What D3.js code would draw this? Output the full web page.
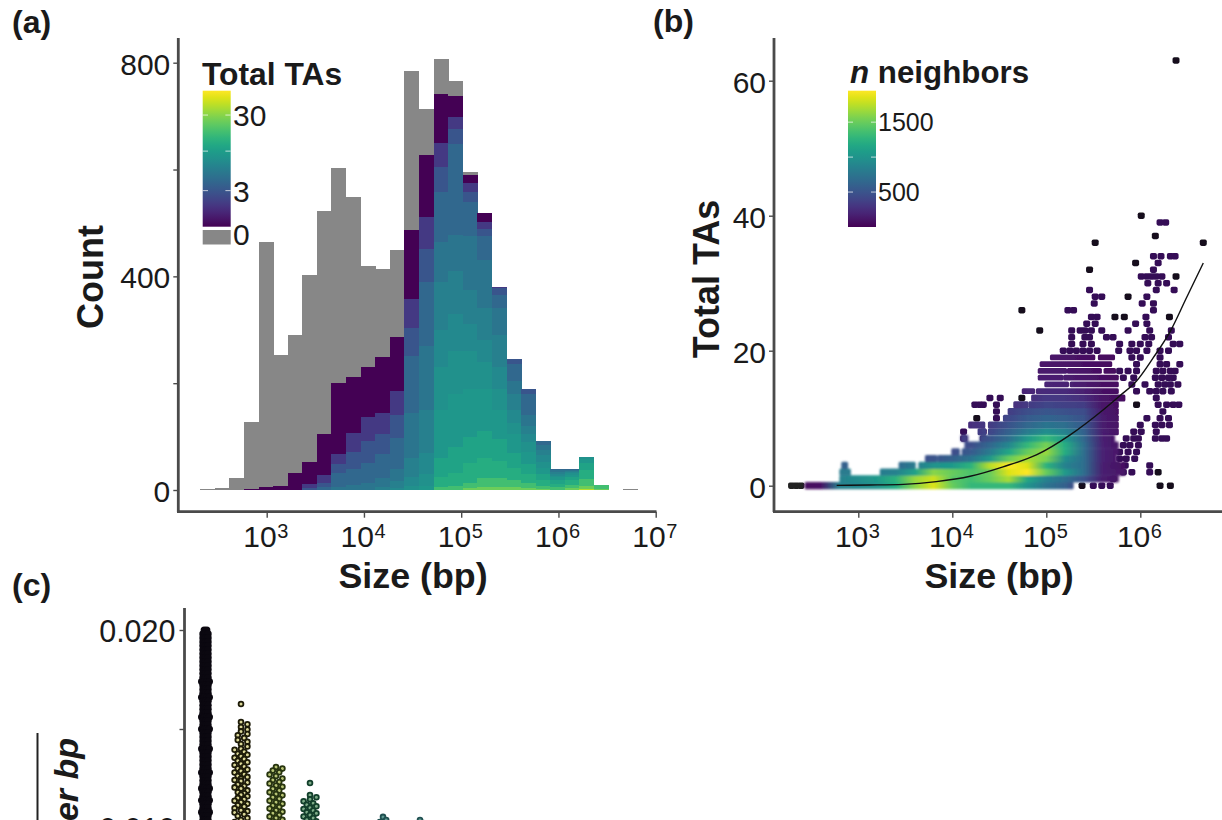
<!DOCTYPE html>
<html><head><meta charset="utf-8">
<script src="https://cdn.jsdelivr.net/npm/d3@7"></script>
<style>
html,body{margin:0;padding:0;background:#fff;overflow:hidden}
svg{display:block}
text{font-family:"Liberation Sans",Arial,sans-serif;fill:#1a1a1a}
</style></head><body>
<svg id="c" width="1222" height="820"></svg>
<script>
// ---------- Panel (a): histogram, counts of loci with at least k TAs, per size bin
const binCount = 30, binStartLog = 2.316, binWidthLog = 0.15;
const total = [1,4,22,128,464,252,290,403,522,603,549,419,413,450,785,714,806,766,596,519,380,246,189,91,40,39,61,9,0,1];
const ge1  = [0,0,0,1,5,8,32,53,104,200,212,230,249,286,487,628,742,737,590,519,380,246,189,91,40,39,61,9,0,0];
const ge2  = [0,0,0,0,0,0,0,12,28,68,106,137,144,186,358,511,650,698,574,501,380,246,189,91,40,39,61,9,0,0];
const ge3  = [0,0,0,0,0,0,0,4,14,48,72,92,104,140,304,452,604,676,558,488,378,246,189,91,40,39,61,9,0,0];
const ge4  = [0,0,0,0,0,0,0,0,6,31,40,50,67,97,250,390,558,648,540,475,365,235,180,91,40,39,61,9,0,0];
const ge5  = [0,0,0,0,0,0,0,0,0,6,10,14,22,40,145,270,465,478,475,430,340,205,140,85,38,38,61,9,0,0];
const ge6  = [0,0,0,0,0,0,0,0,0,0,0,0,5,16,60,150,390,410,375,340,290,180,120,74,34,36,61,9,0,0];
const ge7  = [0,0,0,0,0,0,0,0,0,0,0,0,0,3,25,70,300,330,310,280,230,150,105,65,30,34,61,9,0,0];
const ge8  = [0,0,0,0,0,0,0,0,0,0,0,0,0,0,8,30,230,260,260,240,190,125,90,52,27,32,61,9,0,0];
const ge9  = [0,0,0,0,0,0,0,0,0,0,0,0,0,0,0,8,150,180,190,190,150,105,72,42,24,28,58,9,0,0];
const ge11 = [0,0,0,0,0,0,0,0,0,0,0,0,0,0,0,0,60,80,100,110,95,70,48,30,18,24,50,9,0,0];
const ge13 = [0,0,0,0,0,0,0,0,0,0,0,0,0,0,0,0,25,32,50,60,55,42,30,18,12,18,38,9,0,0];
const ge18 = [0,0,0,0,0,0,0,0,0,0,0,0,0,0,0,0,5,8,14,22,22,18,14,8,5,10,20,9,0,0];
const ge25 = [0,0,0,0,0,0,0,0,0,0,0,0,0,0,0,0,0,0,3,6,6,5,4,2,0,3,7,2,0,0];
const ge40 = [0,0,0,0,0,0,0,0,0,0,0,0,0,0,0,0,0,0,0,0,0,0,0,0,0,0,1,0,0,0];
const levelTAs = [1,2,3,4,5,6,7,8,9,11,13,18,25,40];
const levelCounts = [ge1,ge2,ge3,ge4,ge5,ge6,ge7,ge8,ge9,ge11,ge13,ge18,ge25,ge40];
const countTicks = [0,200,400,600,800], countLabels = {0:"0",400:"400",800:"800"};
const sizeTicksA = [1e3,1e4,1e5,1e6,1e7];

// ---------- Panel (b): density scatter
const sizeTicksB = [1e3,1e4,1e5,1e6];
const taTicks = [0,20,40,60];
const neighborCols = [2.4,2.6,2.8,3.0,3.2,3.4,3.6,3.8,4.0,4.2,4.4,4.6,4.8,5.0,5.2,5.4,5.6,5.8,6.0];
const neighbors = [
 [60,80,850,900,1000,1200,1600,1850,1500,1300,1300,1300,1000,750,600,300,150,60,60],
 [60,80,850,950,1050,1250,1650,1800,1450,1350,1500,1700,1150,850,700,500,150,80,60],
 [800,800,800,800,800,850,1100,1600,1500,1400,1500,1850,1950,1500,1050,700,160,120,90],
 [600,600,600,600,600,650,800,1000,1050,1250,1750,1950,1850,1250,850,700,160,90,60],
 [450,450,450,450,450,450,450,500,600,750,1050,1500,1700,1550,950,700,180,100,60],
 [450,450,450,450,450,450,450,450,450,550,800,1150,1500,1650,1200,700,180,100,60],
 [450,450,450,450,450,450,450,450,450,450,650,900,1300,1550,1200,700,180,90,60],
 [350,350,350,350,350,350,350,350,350,350,500,700,1050,1300,1050,650,170,90,60],
 [300,300,300,300,300,300,300,300,300,300,400,600,800,950,850,600,160,80,60],
 [260,260,260,260,260,260,260,260,260,260,330,500,650,750,700,550,150,80,60],
 [220,220,220,220,220,220,220,220,220,220,300,420,550,620,580,500,150,80,60],
 [200,200,200,200,200,200,200,200,200,200,250,350,470,520,480,450,130,70,60],
 [180,180,180,180,180,180,180,180,180,180,200,250,330,400,380,350,110,70,60],
 [150,150,150,150,150,150,150,150,150,150,170,200,250,320,310,250,100,70,60],
 [120,120,120,120,120,120,120,120,120,120,130,150,200,240,230,170,90,70,60],
 [110,110,110,110,110,110,110,110,110,110,110,130,170,200,190,140,80,70,60],
 [100,100,100,100,100,100,100,100,100,100,100,110,140,160,150,120,80,60,60],
 [90,90,90,90,90,90,90,90,90,90,90,100,120,140,130,100,70,60,60],
 [80,80,80,80,80,80,80,80,80,80,80,90,110,120,110,90,70,60,60],
 [70,70,70,70,70,70,70,70,70,70,70,80,90,100,100,80,60,60,60]
];
// contiguous runs of points: [Total TAs, log10 size from, log10 size to]
const runs = [
 [0,2.45,5.27],[1,2.82,5.75],[2,2.82,2.90],[2,3.25,3.39],[2,3.41,5.82],[3,2.84,2.87],
 [3,3.45,3.59],[3,3.66,5.82],[4,3.73,3.82],[4,3.86,5.73],[5,4.01,4.06],[5,4.12,4.18],[5,4.22,5.75],
 [6,4.15,5.75],[7,4.11,4.15],[7,4.31,5.71],[8,4.29,4.34],[8,4.40,5.75],[9,4.19,4.33],[9,4.40,5.75],
 [10,4.56,5.75],[11,4.61,5.75],[12,4.67,4.79],[12,4.83,5.75],[13,4.86,5.82],[14,4.76,4.86],[14,4.91,5.75],
 [15,5.0,5.22],[15,5.27,5.75],[16,4.93,5.16],[16,5.2,5.75],[17,4.93,5.2],[17,5.24,5.57],[17,5.63,5.72],
 [18,4.95,5.68],[19,5.06,5.50],[19,5.57,5.71]
];
const sparse = [
 [63,[6.38]],[40,[6.01]],[39,[6.21,6.27]],[37,[6.16]],[36,[5.52,6.67]],[34,[6.14,6.22,6.32,6.37]],
 [33,[5.95,6.19]],[32,[5.46,6.14]],[31,[6.01,6.07,6.12,6.17,6.23,6.38]],[30,[6.08,6.19,6.28]],
 [29,[5.46,6.17,6.36]],[28,[5.52,5.59,5.87,6.07]],[27,[5.51,6.02,6.14]],[26,[4.74,5.23,5.29,6.14]],
 [25,[5.48,5.54,5.73,5.83,6.06,6.31]],[24,[5.43,5.52,5.95,6.07]],
 [23,[4.93,5.27,5.36,5.41,5.48,5.59,5.87,6.10,6.33]],[22,[5.27,5.41,5.46,5.64,5.71,6.05,6.12,6.30]],
 [21,[5.27,5.39,5.48,5.78,5.91,6.0,6.09,6.35,6.42]],
 [20,[5.18,5.25,5.32,5.39,5.46,5.54,5.77,5.89,5.96,6.07,6.21,6.30]],
 [19,[5.91,6.0,6.21]],[18,[5.96,6.21,6.28,6.42]],[17,[5.78,5.87,5.96,6.17,6.24,6.32,6.37]],
 [16,[5.82,5.93,6.16,6.23,6.30,6.35]],[15,[5.91,6.05,6.19,6.26,6.32,6.40]],[14,[5.96,6.10,6.17,6.24,6.33]],
 [13,[4.40,4.51,4.74,6.17]],[12,[4.24,4.29,4.33,4.47,5.96,6.19,6.28,6.35,6.41]],[11,[4.47,6.24]],
 [10,[4.26,4.47,6.07,6.21,6.30]],[9,[6.0,6.16,6.23,6.31]],[8,[4.12,4.33,5.93,6.01,6.17]],
 [7,[4.12,4.33,5.85,5.93,5.98,6.16,6.23,6.28]],[6,[5.82,5.89,5.98]],[5,[5.78,5.87,5.96]],
 [4,[5.78,5.85,5.94]],[3,[5.75,5.84,6.10]],[2,[5.82,5.91,6.10,6.19]],[1,[5.71]],
 [0,[2.29,2.34,2.39,5.38,5.50,5.59,5.68,6.21,6.32]]
];
const fitLog = [2.77,3.12,3.48,3.83,4.19,4.54,4.90,5.25,5.61,5.78,5.96,6.14,6.32,6.49,6.67];
const fitTA  = [0.05,0.1,0.2,0.6,1.4,2.8,4.6,7.5,11.3,13.3,15.5,19,22.9,27.8,33];

// ---------- Panel (c): swarm columns (clipped by the page edge)
const fracTicks = [0.020,0.015,0.010], fracLabels = {"0.02":"0.020","0.01":"0.010"};
const col1Values = [.0200,.0198,.0196,.0194,.0192,.0190,.0188,.0186,.0184,.0182,.0180,.0178,.0176,.0174,.0172,.0170,.0168,.0166,.0164,.0162,.0160,.0158,.0156,.0154,.0152,.0150,.0148,.0146,.0144,.0142,.0140,.0138,.0136,.0134,.0132,.0130,.0128,.0126,.0124,.0122,.0120,.0118,.0116,.0114,.0112,.0110,.0108,.0106,.0104,.0102,.0100];
const col1Counts = [2,3,3,3,3,3,3,3,3,3,3,3,3,4,3,3,3,4,3,3,3,3,4,3,3,4,3,3,3,3,4,3,3,3,3,3,4,3,3,3,4,3,3,4,3,3,4,3,3,4,3];
const col2Values = [.01626,.01535,.01524,.01510,.01497,.01488,.01475,.01468,.01455,.01445,.01435,.01424,.01412,.01400,.01395,.01385,.01375,.01370,.01362,.01355,.01348,.01340,.01332,.01325,.01318,.01310,.01300,.01295,.01288,.01280,.01272,.01262,.01258,.01250,.01242,.01238,.01230,.01220,.01212,.01205,.01200,.01190,.01180,.01175,.01168,.01160,.01152,.01145,.01138,.01130,.01122,.01115,.01108,.01100,.01090,.01085,.01078,.01070,.01060,.01050,.01040,.01030,.01020];
const col3Values = [.01308,.01300,.01290,.01282,.01270,.01262,.01250,.01242,.01232,.01225,.01215,.01208,.01198,.01190,.01180,.01172,.01165,.01155,.01148,.01138,.01130,.01122,.01114,.01106,.01098,.01090,.01082,.01074,.01066,.01058,.01050,.01042,.01034,.01026,.01018];
const col4Values = [.01227,.01167,.01155,.01145,.01135,.01125,.01118,.01110,.01102,.01096,.01088,.01080,.01074,.01066,.01058,.01050,.01042,.01034,.01026];
const col5Values = [.01056,.01040,.01030];
const col6Values = [.01040,.01025];
const swarmColumns = [col2Values,col3Values,col4Values,col5Values,col6Values];
const swarmCenters = [0,1,2,3,4];

// ================= drawing
const svg = d3.select("#c");
const defs = svg.append("defs");
const AXIS = "#4a4a4a";
const FS = 30;

function gradient(id, attrs, stops){
  const g = defs.append("linearGradient").attr("id",id);
  Object.entries(attrs).forEach(([k,v])=>g.attr(k,v));
  stops.forEach(([o,c])=>g.append("stop").attr("offset",o).attr("stop-color",c));
}
const vertical = {x1:0,y1:1,x2:0,y2:0};
gradient("vir", vertical, d3.range(0,1.001,0.05).map(t=>[t,d3.interpolateViridis(t)]));

function styleAxis(g){
  g.selectAll("path.domain").attr("stroke",AXIS).attr("stroke-width",2.8);
  g.selectAll(".tick line").attr("stroke",AXIS).attr("stroke-width",1.4);
  g.selectAll("text").attr("font-size",FS).attr("font-family","Liberation Sans").attr("fill","#1a1a1a").attr("dy",".38em");
}
function expTicks(g){
  g.selectAll(".tick").each(function(d){
    const tick = d3.select(this);
    tick.select("text").remove();
    tick.append("text").attr("x",9.5).attr("y",35).attr("text-anchor","end").attr("font-size",FS).text("10");
    tick.append("text").attr("x",10).attr("y",26.5).attr("text-anchor","start").attr("font-size",20).text(Math.round(Math.log10(d)));
  });
}
function leftAxis(scale, ticks, fmt, xpos, top, bottom){
  const g = svg.append("g").attr("transform",`translate(${xpos},0)`)
    .call(d3.axisLeft(scale).tickValues(ticks).tickFormat(fmt).tickSize(5).tickSizeOuter(0).tickPadding(3));
  g.select("path.domain").attr("d",`M0,${top}V${bottom}`);
  styleAxis(g);
  return g;
}
function bottomAxis(scale, ticks, ypos, x0, x1){
  const g = svg.append("g").attr("transform",`translate(0,${ypos})`)
    .call(d3.axisBottom(scale).tickValues(ticks).tickSize(6).tickSizeOuter(0));
  g.select("path.domain").attr("d",`M${x0},0H${x1}`);
  styleAxis(g); expTicks(g);
  return g;
}
function label(txt,x,y,size,opts={}){
  const t = svg.append("text").attr("x",x).attr("y",y).attr("font-size",size).text(txt);
  if(opts.bold!==false) t.attr("font-weight","bold");
  if(opts.anchor) t.attr("text-anchor",opts.anchor);
  if(opts.rotate) t.attr("transform",`rotate(-90,${x},${y})`);
  return t;
}

// ---- (a)
const xA = d3.scaleLog().domain([1e3,1e7]).range([266.7,655.7]);
const yA = d3.scaleLinear().domain([0,800]).range([490,62.7]);
const colorTA = d3.scaleSequentialLog(d3.interpolateViridis).domain([1,63]);
const binEdge = i => xA(Math.pow(10,binStartLog+binWidthLog*i));
const gA = svg.append("g").attr("shape-rendering","crispEdges");
d3.range(binCount).forEach(i=>{
  const x0=binEdge(i), w=binEdge(i+1)-x0+0.4;
  gA.append("rect").attr("x",x0).attr("width",w)
    .attr("y",yA(total[i])).attr("height",Math.max(yA(0)-yA(total[i]),total[i]>0?1:0)).attr("fill","#878787");
  levelCounts.forEach((arr,k)=>{
    const top=arr[i], bot=k<levelCounts.length-1?levelCounts[k+1][i]:0;
    if(top>bot) gA.append("rect").attr("x",x0).attr("width",w)
      .attr("y",yA(top)).attr("height",yA(bot)-yA(top)).attr("fill",colorTA(levelTAs[k]));
  });
});
leftAxis(yA,countTicks,d=>countLabels[d]||"",178.3,38,512);
bottomAxis(xA,sizeTicksA,511.7,177,656.5);
label("Count",103,277,36,{anchor:"middle",rotate:true});
label("Size (bp)",413,588,35.8,{anchor:"middle"});
label("(a)",12,33,32,{bold:true});

// legend a
label("Total TAs",202,85,31.8);
const legTA = d3.scaleLog().domain([1,63]).range([226.7,90.7]);
svg.append("rect").attr("x",202.7).attr("y",90.7).attr("width",28).attr("height",136).attr("fill","url(#vir)");
svg.append("rect").attr("x",202.7).attr("y",230).attr("width",28).attr("height",14.5).attr("fill","#878787");
[3,10,30].forEach(v=>{
  [[202.7,208],[225.4,230.7]].forEach(([a,b])=>svg.append("line").attr("x1",a).attr("x2",b)
    .attr("y1",legTA(v)).attr("y2",legTA(v)).attr("stroke","#fff").attr("stroke-opacity",.7));
});
[[30,"30"],[3,"3"]].forEach(([v,s])=>label(s,233,legTA(v)+11,30,{bold:false}));
label("0",233,245,30,{bold:false});

// ---- (b)
const xB = d3.scaleLog().domain([1e3,1e6]).range([858.3,1140.3]);
const yB = d3.scaleLinear().domain([0,60]).range([485.7,80.7]);
const colorN = d3.scaleSequential(d3.interpolateViridis).domain([0,1950]);
const fromLog = l => xB(Math.pow(10,l));
neighbors.forEach((row,ta)=>{
  gradient("row"+ta,{gradientUnits:"userSpaceOnUse",x1:fromLog(2.4),x2:fromLog(6.0),y1:0,y2:0},
    row.map((n,j)=>[j/(row.length-1),colorN(n)]));
});
[["soft",0.5],["softer",1.1]].forEach(([id,sd])=>{
  defs.append("filter").attr("id",id).attr("filterUnits","userSpaceOnUse")
    .attr("x",760).attr("y",30).attr("width",462).attr("height",480)
    .append("feGaussianBlur").attr("stdDeviation",sd);
});
const pts = sparse.flatMap(([ta,list])=>list.map(l=>({ta,l})));
const gB = svg.append("g").attr("filter","url(#soft)");
gB.selectAll("rect.pt").data(pts).join("rect").attr("class","pt")
  .attr("x",d=>fromLog(d.l)-3.5).attr("y",d=>yB(d.ta)-3.2).attr("width",7).attr("height",6.4).attr("rx",1.8)
  .attr("fill",d=>{
    const near = pts.filter(o=>o!==d && Math.abs(o.ta-d.ta)<=1 && Math.abs(o.l-d.l)<0.09).length;
    return near<1 ? "#15101d" : (d.ta<=1&&d.l<3?"#222":"#350c57");
  });
gB.selectAll("rect.run").data(runs.filter(d=>d[0]>7)).join("rect").attr("class","run")
  .attr("x",d=>fromLog(d[1])-2).attr("width",d=>fromLog(d[2])-fromLog(d[1])+4)
  .attr("y",d=>yB(d[0])-(d[0]<=13?3.5:2.9)).attr("height",d=>d[0]<=13?7:5.8).attr("rx",1.5)
  .attr("fill",d=>`url(#row${d[0]})`);
const gB2 = svg.append("g").attr("filter","url(#softer)");
gB2.selectAll("rect.run").data(runs.filter(d=>d[0]<=7)).join("rect").attr("class","run")
  .attr("x",d=>fromLog(d[1])-2).attr("width",d=>fromLog(d[2])-fromLog(d[1])+4)
  .attr("y",d=>yB(d[0])-3.6).attr("height",7.2).attr("rx",1.5)
  .attr("fill",d=>`url(#row${d[0]})`);
svg.append("path")
  .attr("d",d3.line().x((d,i)=>fromLog(fitLog[i])).y((d,i)=>yB(fitTA[i])).curve(d3.curveMonotoneX)(fitLog))
  .attr("fill","none").attr("stroke","#111").attr("stroke-width",1.4);
leftAxis(yB,taTicks,d=>d,774,38,512);
bottomAxis(xB,sizeTicksB,511.7,773,1222);
label("Total TAs",719,279,36,{anchor:"middle",rotate:true});
label("Size (bp)",999,588,35.8,{anchor:"middle"});
label("(b)",653,32,32,{bold:true});

// legend b
const legN = d3.scaleLinear().domain([0,1950]).range([227,90.7]);
svg.append("rect").attr("x",848).attr("y",90.7).attr("width",28).attr("height",136.3).attr("fill","url(#vir)");
[500,1000,1500].forEach(v=>{
  [[848,853],[871,876]].forEach(([a,b])=>svg.append("line").attr("x1",a).attr("x2",b)
    .attr("y1",legN(v)).attr("y2",legN(v)).attr("stroke","#fff").attr("stroke-opacity",.7));
});
[[1500,"1500"],[500,"500"]].forEach(([v,s])=>label(s,878,legN(v)+9,25,{bold:false}));
const nt = svg.append("text").attr("x",850).attr("y",83).attr("font-size",31.3).attr("font-weight","bold");
nt.append("tspan").attr("font-style","italic").text("n");
nt.append("tspan").text(" neighbors");

// ---- (c)
const yC = d3.scaleLinear().domain([0.020,0.010]).range([630,828]);
const swarmX = d3.scaleOrdinal().domain(swarmCenters).range([241,276,310,383,420]);
const col1X = 205.5;
const gC = svg.append("g");
col1Values.forEach((v,i)=>{
  const n=col1Counts[i];
  d3.range(n).forEach(j=>gC.append("circle").attr("cx",col1X+(j-(n-1)/2)*2.6).attr("cy",yC(v)).attr("r",3.6).attr("fill","#0b0810"));
});
const colFill = ["#dcd898","#b9c576","#7dac88","#5f9a92","#5f9a92"];
const colStroke = ["#1d1b08","#27340f","#123f2b","#1f4f50","#1f4f50"];
swarmColumns.forEach((vals,c)=>{
  const placed=[];
  vals.forEach(v=>{
    const y=yC(v);
    let off=0;
    for(const o of [0,3.2,-3.2,6.4,-6.4]){
      if(!placed.some(p=>Math.hypot(p.o-o,p.y-y)<4.2)){off=o;break;}
    }
    placed.push({o:off,y});
    gC.append("circle").attr("cx",swarmX(c)+off).attr("cy",y).attr("r",2.4)
      .attr("fill",colFill[c]).attr("stroke",colStroke[c]).attr("stroke-width",1.8);
  });
});
const gCax = svg.append("g").attr("transform","translate(184.5,0)")
  .call(d3.axisLeft(yC).tickValues(fracTicks).tickFormat(d=>fracLabels[String(d)]||"").tickSize(5).tickSizeOuter(0).tickPadding(4));
gCax.select("path.domain").attr("d","M0,608V830");
styleAxis(gCax);
gCax.selectAll("text").attr("font-size",30.5);
label("(c)",12,596,32,{bold:true});
svg.append("text").attr("transform","translate(78,738) rotate(-90)").attr("text-anchor","end")
  .attr("font-size",34).attr("font-weight","bold").attr("font-style","italic").text("TAs per bp");
svg.append("line").attr("x1",37.5).attr("x2",37.5).attr("y1",733).attr("y2",830).attr("stroke","#222").attr("stroke-width",2);
</script>
</body></html>
